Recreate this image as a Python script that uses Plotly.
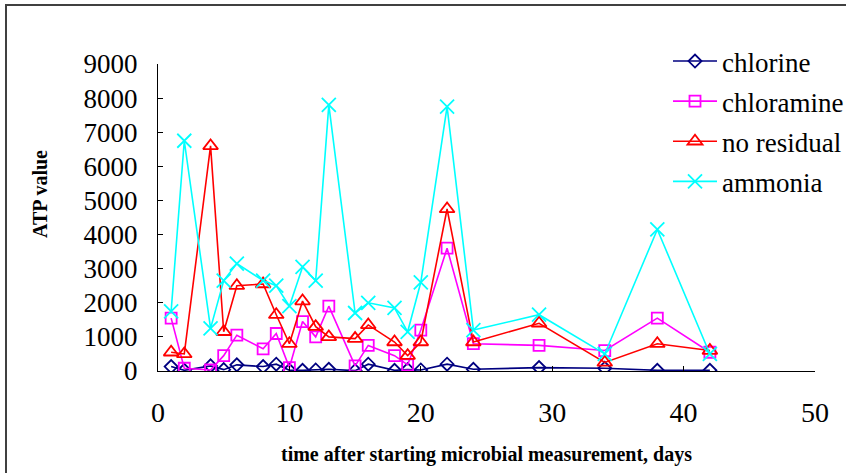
import plotly.graph_objects as go

days = [1, 2, 4, 5, 6, 8, 9, 10, 11, 12, 13, 15, 16, 18, 19, 20, 22, 24, 29, 34, 38, 42]
chlorine = [130, 20, 150, 40, 180, 130, 200, 20, 20, 30, 50, 10, 200, 20, 40, 30, 200, 50, 100, 80, 20, 20]
chloramine = [1550, 80, 30, 450, 1050, 650, 1100, 100, 1450, 1000, 1900, 150, 750, 450, 180, 1200, 3600, 800, 750, 600, 1550, 550]
no_residual = [550, 500, 6600, 1150, 2500, 2550, 1650, 800, 2050, 1300, 1000, 950, 1350, 850, 450, 850, 4750, 850, 1400, 250, 800, 600]
ammonia = [1750, 6750, 1250, 2650, 3150, 2650, 2500, 1900, 3050, 2650, 7800, 1700, 2000, 1850, 1150, 2600, 7750, 1200, 1650, 500, 4150, 500]

series_names = ["chlorine", "chloramine", "no residual", "ammonia"]
x_ticks = [0, 10, 20, 30, 40, 50]
y_ticks = [0, 1000, 2000, 3000, 4000, 5000, 6000, 7000, 8000, 9000]

FONT = "Times New Roman"

styles = [
    dict(color="#000080", symbol="diamond-open", size=10),
    dict(color="#FF00FF", symbol="square-open", size=11),
    dict(color="#FF0000", symbol="triangle-up-open", size=13),
    dict(color="#00FFFF", symbol="x-thin-open", size=14),
]

fig = go.Figure()
for name, vals, st in zip(series_names, [chlorine, chloramine, no_residual, ammonia], styles):
    fig.add_trace(go.Scatter(
        x=days, y=vals, name=name, mode="lines+markers",
        legendgroup=name,
        line=dict(color=st["color"], width=1.6),
        marker=dict(symbol=st["symbol"], size=st["size"], color=st["color"],
                    line=dict(color=st["color"], width=1.8)),
    ))

L, R, T, B = 158, 31, 64, 102
W, H = 846, 473
pw, ph = W - L - R, H - T - B

def px_x(p):
    return (p - L) / pw

def px_y(p):
    return (H - B - p) / ph

fig.update_layout(
    width=W, height=H,
    margin=dict(l=L, r=R, t=T, b=B, pad=0, autoexpand=False),
    paper_bgcolor="white", plot_bgcolor="white",
    font=dict(family=FONT, color="black"),
    showlegend=True,
    legend=dict(
        x=px_x(668), y=px_y(37), xanchor="left", yanchor="top",
        bgcolor="rgba(0,0,0,0)", font=dict(size=27, family=FONT),
        tracegroupgap=2, itemwidth=44,
    ),
    xaxis=dict(
        range=[0, 50], tickvals=x_ticks, ticktext=[str(v) for v in x_ticks],
        showgrid=False, zeroline=False, showline=True, linecolor="black", linewidth=1,
        ticks="inside", ticklen=5, tickcolor="black", automargin=False,
        tickfont=dict(size=28, family=FONT), ticklabelstandoff=16,
        title=dict(text="<b>time after starting microbial measurement, days</b>",
                   font=dict(size=20, family=FONT), standoff=20),
    ),
    yaxis=dict(
        range=[0, 9000], tickvals=y_ticks, ticktext=[str(v) for v in y_ticks],
        showgrid=False, zeroline=False, showline=True, linecolor="black", linewidth=1,
        ticks="inside", ticklen=5, tickcolor="black", automargin=False,
        tickfont=dict(size=27, family=FONT), ticklabelstandoff=14,
    ),
    annotations=[dict(text="<b>ATP value</b>", xref="paper", yref="paper",
                      x=px_x(40), y=px_y(194), xanchor="center", yanchor="middle",
                      textangle=-90, showarrow=False, font=dict(size=20, family=FONT))],
    shapes=[dict(type="rect", xref="paper", yref="paper",
                 x0=px_x(6), x1=px_x(852), y0=px_y(480), y1=px_y(5),
                 line=dict(color="#404040", width=2), fillcolor="rgba(0,0,0,0)", layer="below")],
)

fig.write_html("out.html")
